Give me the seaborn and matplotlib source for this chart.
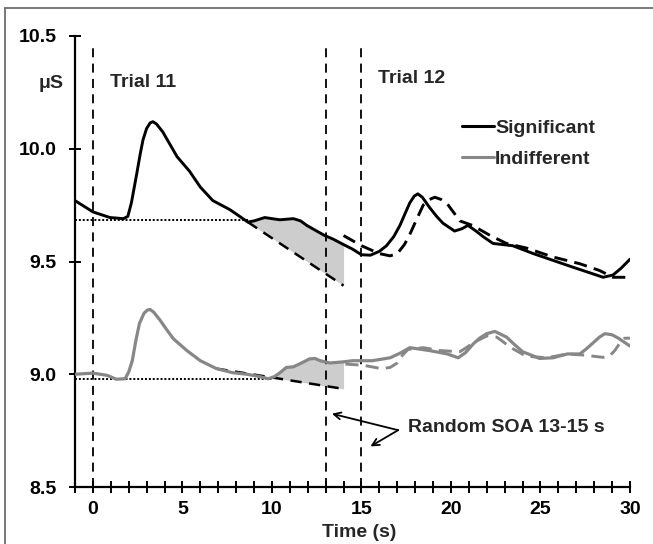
import numpy as np
import pandas as pd
import matplotlib
matplotlib.use("Agg")
import matplotlib.pyplot as plt
from matplotlib.lines import Line2D
import seaborn as sns

# ---------------- data ----------------
sig_t = [-1, 0, 0.95, 1.7, 1.95, 2.15, 2.45, 2.65, 2.8, 3.0, 3.2, 3.35, 3.55, 3.9, 4.3, 4.7,
         5.4, 6.0, 6.7, 7.65, 8.2, 8.65, 9.0, 9.6, 10.0, 10.45, 11.2, 11.6, 11.95, 12.5,
         12.95, 13.4, 14.0, 14.5, 15.0, 15.5, 16.0, 16.4, 16.8, 17.15, 17.45, 17.7, 17.95,
         18.15, 18.4, 18.8, 19.2, 19.55, 20.2, 20.6, 20.95, 21.4, 21.8, 22.35, 23.45, 24.6,
         25.7, 26.8, 27.75, 28.5, 29.05, 29.5, 30]
sig_v = [9.77, 9.72, 9.695, 9.69, 9.70, 9.76, 9.89, 9.98, 10.04, 10.09, 10.115, 10.12,
         10.11, 10.075, 10.02, 9.965, 9.9, 9.83, 9.77, 9.73, 9.70, 9.675, 9.68, 9.695, 9.69,
         9.685, 9.69, 9.68, 9.66, 9.635, 9.615, 9.60, 9.575, 9.555, 9.53, 9.528, 9.545, 9.57,
         9.61, 9.66, 9.715, 9.76, 9.79, 9.80, 9.785, 9.74, 9.70, 9.67, 9.635, 9.645, 9.66,
         9.635, 9.61, 9.58, 9.57, 9.535, 9.505, 9.475, 9.45, 9.43, 9.44, 9.47, 9.51]

sig2_t = [14.0, 15.0, 16.0, 16.6, 17.0, 17.4, 17.7, 18.1, 18.45, 18.8, 19.1, 19.45, 19.8,
          20.5, 21.2, 22.2, 23.1, 24.2, 25.7, 27.2, 28.3, 29.05, 30]
sig2_v = [9.615, 9.57, 9.535, 9.525, 9.535, 9.575, 9.62, 9.69, 9.75, 9.775, 9.785, 9.775,
          9.755, 9.68, 9.66, 9.615, 9.58, 9.56, 9.52, 9.49, 9.46, 9.43, 9.43]

ind_t = [-1, 0, 0.8, 1.3, 1.8, 2.0, 2.2, 2.4, 2.6, 2.85, 3.05, 3.2, 3.4, 3.75, 4.1, 4.5,
         5.25, 6.0, 6.9, 7.8, 8.6, 9.3, 9.8, 10.15, 10.45, 10.8, 11.2, 11.65, 12.1, 12.4,
         12.7, 13.25, 14.0, 14.5, 15.6, 16.6, 17.2, 17.7, 18.8, 19.8, 20.4, 20.8, 21.25,
         21.6, 22.0, 22.45, 23.1, 23.5, 24.0, 24.95, 25.7, 26.5, 27.2, 27.6, 27.95, 28.3,
         28.6, 29.0, 29.35, 30]
ind_v = [9.0, 9.005, 8.995, 8.978, 8.98, 9.01, 9.06, 9.15, 9.225, 9.27, 9.285, 9.287, 9.275,
         9.24, 9.20, 9.157, 9.105, 9.06, 9.025, 9.007, 9.0, 8.99, 8.98, 8.99, 9.007, 9.03,
         9.033, 9.05, 9.068, 9.07, 9.06, 9.05, 9.055, 9.06, 9.06, 9.073, 9.095, 9.118,
         9.105, 9.09, 9.073, 9.095, 9.135, 9.16, 9.18, 9.19, 9.165, 9.135, 9.1, 9.07, 9.073,
         9.09, 9.09, 9.115, 9.14, 9.165, 9.18, 9.175, 9.16, 9.125]

ind2_t = [14.1, 15.1, 16.1, 16.6, 17.0, 17.3, 17.6, 18.45, 19.4, 20.5, 20.9, 21.25, 22.0,
          22.55, 22.9, 23.3, 24.2, 25.35, 26.5, 27.4, 28.5, 28.85, 29.15, 29.45, 29.7, 30]
ind2_v = [9.045, 9.04, 9.025, 9.03, 9.05, 9.085, 9.11, 9.118, 9.105, 9.1, 9.12, 9.14, 9.17,
          9.165, 9.145, 9.12, 9.08, 9.073, 9.09, 9.085, 9.075, 9.08, 9.105, 9.14, 9.16, 9.16]

# baselines (dotted) and extrapolated trends (dashed)
sig_base_t = [-1, 8.65]
sig_base_v = [9.685, 9.685]
ind_base_t = [-1, 10.0]
ind_base_v = [8.98, 8.98]
sig_trend_t = [8.65, 14.0]
sig_trend_v = [9.675, 9.393]
ind_trend_t = [6.9, 14.0]
ind_trend_v = [9.025, 8.935]
sig_fill_range = [8.65, 14.0]
ind_fill_range = [9.8, 14.0]

onsets = [0, 13, 15]
series_labels = ["Significant", "Indifferent"]
x_ticks = [0, 5, 10, 15, 20, 25, 30]
x_minor = list(range(-1, 31))
y_ticks = [8.5, 9.0, 9.5, 10.0, 10.5]
y_ticklabels = ["8.5", "9.0", "9.5", "10.0", "10.5"]

# ---------------- style ----------------
sns.set_style("ticks")
plt.rcParams["font.family"] = ["Liberation Sans", "DejaVu Sans"]
plt.rcParams["font.weight"] = "bold"

BLACK = "#000000"
GRAY = "#878787"
FILL = "#cdcdcd"
FS = 14
TL = 4.3   # half tick length (pt)
TW = 1.4

fig = plt.figure(figsize=(6.53, 5.44), dpi=100)
ax = fig.add_axes([75 / 653, 1 - 487 / 544, 555 / 653, 451 / 544])

# shaded areas
for ct, cv, tt, tv, rng in [(sig_t, sig_v, sig_trend_t, sig_trend_v, sig_fill_range),
                             (ind_t, ind_v, ind_trend_t, ind_trend_v, ind_fill_range)]:
    ct_a = np.array(ct)
    cv_a = np.array(cv)
    m = (ct_a >= rng[0]) & (ct_a <= rng[1])
    xs = ct_a[m]
    line = np.interp(xs, tt, tv)
    ax.fill_between(xs, cv_a[m], line, color=FILL, lw=0, zorder=1)

# baselines
ax.plot(sig_base_t, sig_base_v, color=BLACK, lw=1.4, ls=(0, (1, 1)), zorder=2)
ax.plot(ind_base_t, ind_base_v, color=BLACK, lw=1.4, ls=(0, (1, 1)), zorder=2)
# trends
ax.plot(sig_trend_t, sig_trend_v, color=BLACK, lw=1.8, ls=(0, (4.5, 3)), zorder=2)
ax.plot(ind_trend_t, ind_trend_v, color=BLACK, lw=1.8, ls=(0, (4.5, 3)), zorder=2)

# onset lines
for o in onsets:
    ax.plot([o, o], [8.5, 10.47], color=BLACK, lw=1.3, ls=(0, (5, 3.5)), zorder=2)

df_sig = pd.DataFrame({"t": sig_t, "v": sig_v})
df_sig2 = pd.DataFrame({"t": sig2_t, "v": sig2_v})
df_ind = pd.DataFrame({"t": ind_t, "v": ind_v})
df_ind2 = pd.DataFrame({"t": ind2_t, "v": ind2_v})

common = dict(estimator=None, solid_joinstyle="round", dash_joinstyle="round")
sns.lineplot(data=df_ind2, x="t", y="v", ax=ax, color=GRAY, lw=2.1,
             linestyle=(0, (4.5, 2.5)), zorder=3, **common)
sns.lineplot(data=df_sig2, x="t", y="v", ax=ax, color=BLACK, lw=2.1,
             linestyle=(0, (4.5, 2.5)), zorder=3, **common)
sns.lineplot(data=df_ind, x="t", y="v", ax=ax, color=GRAY, lw=2.3, zorder=4, **common)
sns.lineplot(data=df_sig, x="t", y="v", ax=ax, color=BLACK, lw=2.1, zorder=4, **common)

ax.set_xlim(-1, 30)
ax.set_ylim(8.5, 10.5)

for s in ["top", "right"]:
    ax.spines[s].set_visible(False)
for s in ["left", "bottom"]:
    ax.spines[s].set_linewidth(1.6)
    ax.spines[s].set_color(BLACK)

ax.set_xticks(x_ticks)
ax.set_xticks(x_minor, minor=True)
ax.set_xticklabels([str(x) for x in x_ticks])
ax.set_yticks(y_ticks)
ax.set_yticklabels(y_ticklabels)
ax.tick_params(axis="both", which="both", direction="out", length=TL, width=TW,
               colors=BLACK, labelsize=FS, bottom=True, left=True, top=False, right=False)
ax.tick_params(axis="x", pad=6)
ax.tick_params(axis="y", pad=9)
for lab in ax.get_xticklabels() + ax.get_yticklabels():
    lab.set_fontweight("bold")

# inward half of the crossing ticks
secx = ax.secondary_xaxis("bottom")
secx.set_xticks(x_ticks)
secx.set_xticks(x_minor, minor=True)
secx.tick_params(axis="x", which="both", direction="in", length=TL, width=TW,
                 colors=BLACK, labelbottom=False)
secx.spines["bottom"].set_visible(False)
secy = ax.secondary_yaxis("left")
secy.set_yticks(y_ticks)
secy.tick_params(axis="y", which="both", direction="in", length=TL, width=TW,
                 colors=BLACK, labelleft=False)
secy.spines["left"].set_visible(False)

ax.set_xlabel("Time (s)", fontsize=FS, fontweight="bold")
ax.xaxis.set_label_coords(0.512, -0.082)
ax.set_ylabel("")

# texts
ax.text(-2.35, 10.29, "μS", ha="center", va="center", fontsize=FS, fontweight="bold",
        clip_on=False)
ax.text(0.95, 10.296, "Trial 11", ha="left", va="center", fontsize=FS, fontweight="bold")
ax.text(15.92, 10.31, "Trial 12", ha="left", va="center", fontsize=FS, fontweight="bold")
ax.text(17.6, 8.765, "Random SOA 13-15 s", ha="left", va="center", fontsize=FS,
        fontweight="bold")
for tgt in [(13.35, 8.825), (15.5, 8.68)]:
    ax.annotate("", xy=tgt, xytext=(17.05, 8.752),
                arrowprops=dict(arrowstyle="->,head_length=0.5,head_width=0.25",
                                color=BLACK, lw=1.3, shrinkA=0, shrinkB=0))

# legend
handles = [Line2D([], [], color=BLACK, lw=2.2), Line2D([], [], color=GRAY, lw=2.2)]
leg = ax.legend(handles, series_labels, loc="upper left", bbox_to_anchor=(0.697, 0.815),
                frameon=False, fontsize=FS, handlelength=1.65, handletextpad=0.05,
                borderpad=0, borderaxespad=0, labelspacing=0.68)
for t in leg.get_texts():
    t.set_fontweight("bold")

# figure border (top and left)
fig.add_artist(Line2D([5 / 653, 5 / 653], [0, 1 - 8 / 544], color="#6e6e6e", lw=1.3))
fig.add_artist(Line2D([5 / 653, 1], [1 - 8 / 544, 1 - 8 / 544], color="#6e6e6e", lw=1.3))

fig.savefig("out.png", dpi=100)
